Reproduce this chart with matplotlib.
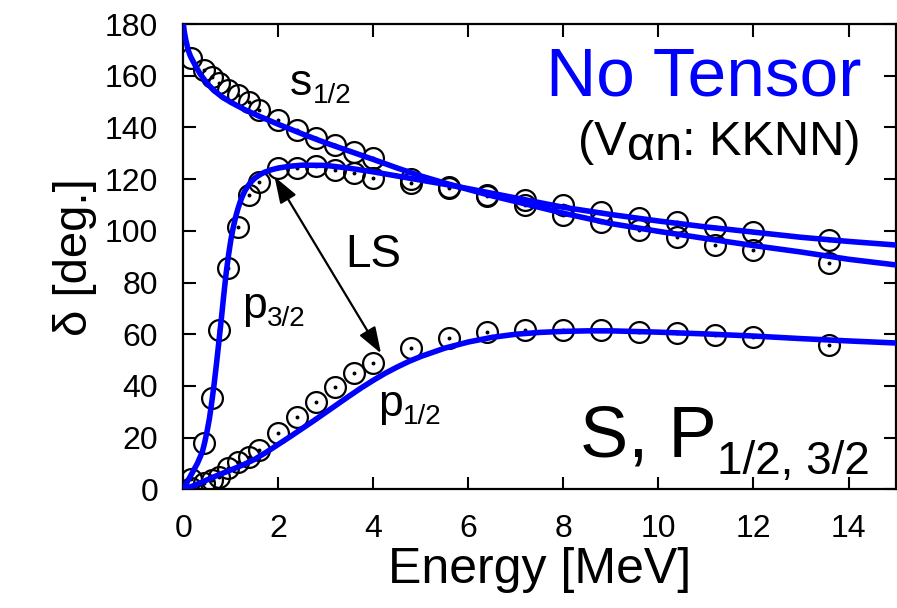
import numpy as np
import matplotlib
matplotlib.use("Agg")
import matplotlib.pyplot as plt

plt.rcParams['font.family'] = ['Liberation Sans', 'DejaVu Sans']

# alpha-n phase shifts (no tensor force, KKNN potential)
energy_data = [0.16, 0.44, 0.6, 0.76, 0.94, 1.16, 1.38, 1.6, 2.0, 2.4, 2.8, 3.2, 3.6,
               4.0, 4.8, 5.6, 6.4, 7.2, 8.0, 8.8, 9.6, 10.4, 11.2, 12.0, 13.6]
s12_data = [166.7, 162.2, 159.6, 157.1, 154.5, 152.5, 149.9, 146.8, 142.9, 139.1, 135.8,
            133.2, 130.6, 128.1, 120.2, 117.1, 113.6, 110.0, 106.1, 103.5, 100.3, 97.7,
            94.5, 92.6, 87.4]
p32_data = [4.0, 18.1, 35.2, 61.6, 85.5, 101.6, 113.8, 119.0, 124.2, 124.2, 124.9, 123.6,
            122.3, 120.3, 118.4, 116.4, 114.0, 112.0, 110.0, 107.4, 104.8, 103.5, 101.6,
            99.7, 96.4]
p12_data = [0.5, 2.5, 3.6, 4.9, 8.1, 10.5, 12.6, 15.2, 21.7, 27.9, 33.9, 39.7, 44.9,
            48.7, 54.5, 58.4, 61.0, 61.6, 61.6, 61.6, 61.0, 60.3, 59.7, 59.0, 55.8]

# calculated curves
s12_e = [0, 0.02, 0.05, 0.1, 0.15, 0.25, 0.35, 0.5, 0.65, 0.8, 1.0, 1.3, 1.6, 2.0, 2.5,
         3.0, 3.5, 4.0, 4.5, 5.0, 5.5, 6.0, 6.5, 7.0, 8.0, 9.0, 10.0, 11.0, 12.0, 13.0,
         14.0, 15.0]
s12_calc = [180, 177, 174, 170, 167.5, 164, 160.8, 157, 154.2, 152, 149.7, 146.8, 144.3,
            141.2, 137.5, 134, 130.8, 127.6, 124.3, 121.2, 118.5, 116, 113.5, 111.3,
            106.8, 102.8, 99.8, 97, 94.3, 91.8, 89, 86.8]

p32_e = [0, 0.1, 0.2, 0.3, 0.4, 0.45, 0.5, 0.55, 0.6, 0.65, 0.7, 0.75, 0.8, 0.85, 0.9,
         0.95, 1.0, 1.05, 1.1, 1.15, 1.2, 1.25, 1.3, 1.35, 1.4, 1.5, 1.6, 1.7, 1.85, 2.0,
         2.25, 2.5, 3.0, 3.5, 4.0, 4.5, 5.0, 5.6, 6.0, 7.0, 8.0, 9.0, 10.0, 11.0, 12.0,
         13.0, 14.0, 15.0]
p32_calc = [0, 3.5, 6.8, 10.2, 14.5, 18.2, 22.5, 27.5, 34, 41, 49, 57.5, 66, 75, 83.5,
            90.5, 96.5, 101.3, 105.3, 108.6, 111.4, 113.7, 115.6, 117.1, 118.4, 120.3,
            121.6, 122.6, 123.6, 124.3, 125.0, 125.4, 125.3, 124.2, 122.8, 121.2, 119.6,
            117.7, 116.3, 112.7, 109.1, 106.3, 103.8, 101.5, 99.5, 97.5, 95.9, 94.5]

p12_e = [0, 0.2, 0.4, 0.6, 0.8, 1.0, 1.25, 1.5, 1.75, 2.0, 2.25, 2.5, 2.75, 3.0, 3.25,
         3.5, 3.75, 4.0, 4.25, 4.5, 4.75, 5.0, 5.5, 6.0, 6.5, 7.0, 7.5, 8.0, 8.5, 9.0,
         10.0, 11.0, 12.0, 13.0, 14.0, 15.0]
p12_calc = [0, 1.3, 2.8, 4.5, 6.0, 7.5, 9.4, 11.6, 14.4, 17.4, 20.4, 23.5, 26.6, 29.8,
            33.0, 36.2, 39.3, 42.2, 44.9, 47.3, 49.5, 51.4, 54.6, 57.0, 58.8, 60.0, 60.7,
            61.1, 61.3, 61.3, 60.8, 60.1, 59.3, 58.3, 57.4, 56.6]


def chained_text(ax, x, y, parts, **kw):
    """Draw text pieces one after another; each part is (text, size, dy in points)."""
    s, size, _ = parts[0]
    prev = ax.text(x, y, s, fontsize=size, va='baseline', ha='left', **kw)
    for s, size, dy in parts[1:]:
        prev = ax.annotate(s, xy=(1, 0), xycoords=prev, xytext=(0, dy),
                           textcoords='offset points', fontsize=size,
                           va='bottom', ha='left', **kw)
    return prev


fig = plt.figure(figsize=(8.97, 6.08), dpi=100)
ax = fig.add_axes([0.2044, 0.1952, 0.7945, 0.7653])

blue = (0, 0, 1)
for e, d in [(s12_e, s12_calc), (p32_e, p32_calc), (p12_e, p12_calc)]:
    ax.plot(e, d, color=blue, lw=4, zorder=4, solid_joinstyle='round')

for d in [s12_data, p32_data, p12_data]:
    ax.plot(energy_data, d, 'o', ms=15, mfc='none', mec='k', mew=1.6, zorder=3)
    ax.plot(energy_data, d, 'o', ms=1.8, color='k', zorder=3)

ax.set_xlim(0, 15)
ax.set_ylim(0, 180)
ax.set_xticks(np.arange(0, 15, 2))
ax.set_yticks(np.arange(0, 181, 20))
ax.tick_params(direction='in', top=True, right=True, length=9, width=1.5,
               labelsize=23, pad=18)
for sp in ax.spines.values():
    sp.set_linewidth(1.6)

ax.set_xlabel('Energy [MeV]', fontsize=36, labelpad=2)
ax.set_ylabel('δ [deg.]', fontsize=34, labelpad=6)

# curve labels
chained_text(ax, 2.25, 152.5, [('s', 32, 0), ('1/2', 20, -3.5)])
chained_text(ax, 1.235, 66.3, [('p', 32, 0), ('3/2', 20, -3.5)])
chained_text(ax, 4.1, 28.4, [('p', 32, 0), ('1/2', 20, -3.5)])
ax.text(3.4, 86.1, 'LS', fontsize=33, va='baseline')

ax.annotate('', xy=(1.92, 120.9), xytext=(4.16, 52.6),
            arrowprops=dict(arrowstyle='<|-|>,head_length=0.8,head_width=0.28',
                            color='k', lw=1.6, shrinkA=0, shrinkB=0,
                            mutation_scale=20))

ax.text(14.28, 152.5, 'No Tensor', fontsize=50, color=blue, ha='right', va='baseline')
chained_text(ax, 8.31, 129.3, [('(V', 35, 0), ('αn', 35, -3.6), (': KKNN)', 35, 3.6)])
chained_text(ax, 8.35, 12.6, [('S, P', 52, 0), ('1/2, 3/2', 33, -8.5)])

fig.savefig('out.png', dpi=100)
